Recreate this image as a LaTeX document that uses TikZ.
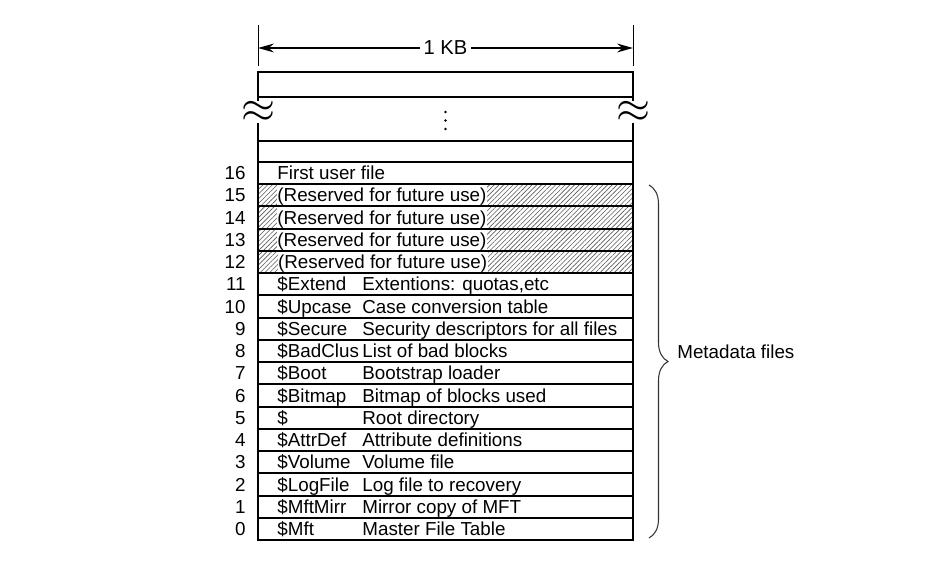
\documentclass[tikz,border=0pt]{standalone}
\usepackage{fontspec}
\setmainfont{Liberation Sans}
\usetikzlibrary{patterns.meta,decorations.pathreplacing,arrows.meta}

\begin{document}
\begin{tikzpicture}[x=0.02cm,y=-0.02cm,
    every node/.style={font=\fontsize{10.7}{12}\selectfont},
    row/.style={draw,line width=1.1pt,minimum width=7.5cm,minimum height=0.4448cm,inner sep=0pt},
    hatched/.style={row,pattern={Lines[angle=45,distance=1.9pt,line width=0.35pt]},pattern color=black!65},
    lbl/.style={anchor=west,inner sep=0pt,text height=7.6pt,text depth=0pt},
    num/.style={lbl,anchor=east},
    wave/.style={fill=white,inner sep=0.2pt,font=\fontsize{24}{24}\selectfont},
    dot/.style={circle,fill,inner sep=0pt,minimum size=1.6pt}]
  \useasboundingbox (0,0) rectangle (934,580);

  % width of one record
  \coordinate (tL1) at (258,25);
  \coordinate (tL2) at (258,66);
  \coordinate (tR1) at (633,25);
  \coordinate (tR2) at (633,66);
  \coordinate (kbL) at (258,48);
  \coordinate (kbR) at (633,48);
  \draw[line width=0.4pt] (tL1) -- (tL2);
  \draw[line width=0.4pt] (tR1) -- (tR2);
  \draw[line width=1.2pt,{Stealth[length=9pt,width=5pt]}-{Stealth[length=9pt,width=5pt]}] (kbL) -- node[fill=white,inner sep=2pt,font=\fontsize{11.5}{12}\selectfont] (kb) {1 KB} (kbR);

  % upper part of the table
  \node[row,minimum height=0.5cm] (rA) at (445.5,84.3) {};
  \node[row,minimum height=0.88cm] (rgap) at (445.5,119) {};
  \node[row,minimum height=0.42cm] (rB) at (445.5,151.5) {};
  \node[dot] (dot1) at (445.5,112) {};
  \node[dot] (dot2) at (445.5,120.5) {};
  \node[dot] (dot3) at (445.5,129) {};
  \node[wave] (wL) at (258,112) {$\approx$};
  \node[wave] (wR) at (633,112) {$\approx$};

  % metadata records
  \foreach \k/\nm/\ds in {0/\$Mft/Master File Table,
      1/\$MftMirr/Mirror copy of MFT,
      2/\$LogFile/Log file to recovery,
      3/\$Volume/Volume file,
      4/\$AttrDef/Attribute definitions,
      5/\$/Root directory,
      6/\$Bitmap/Bitmap of blocks used,
      7/\$Boot/Bootstrap loader,
      8/\$BadClus/List of bad blocks,
      9/\$Secure/Security descriptors for all files,
      10/\$Upcase/Case conversion table,
      11/\$Extend/{Extentions: quotas,etc}}{
    \node[row] (r\k) at (445.5,{528.9-22.24*\k}) {};
    \node[num] (n\k) at (246,{528.9-22.24*\k}) {\k};
    \node[lbl] (m\k) at ([xshift=0.4cm]r\k.west) {\nm};
    \node[lbl] (d\k) at ([xshift=2.1cm]r\k.west) {\ds};
  }

  \foreach \k in {12,...,15}{
    \node[hatched] (r\k) at (445.5,{528.9-22.24*\k}) {};
    \node[num] (n\k) at (246,{528.9-22.24*\k}) {\k};
    \node[lbl,fill=white,inner xsep=0.3pt,inner ysep=2pt] (m\k) at ([xshift=0.39cm]r\k.west) {(Reserved for future use)};
  }

  \node[row] (r16) at (445.5,173.1) {};
  \node[num] (n16) at (246,173.1) {16};
  \node[lbl] (m16) at ([xshift=0.4cm]r16.west) {First user file};

  % brace
  \coordinate (brT) at (649,185);
  \coordinate (brB) at (649,538);
  \draw[decorate,decoration={brace,amplitude=0.38cm},black!80,line width=0.6pt] (brT) -- (brB);
  \node[lbl] (meta) at (677,352) {Metadata files};

\end{tikzpicture}
\end{document}
